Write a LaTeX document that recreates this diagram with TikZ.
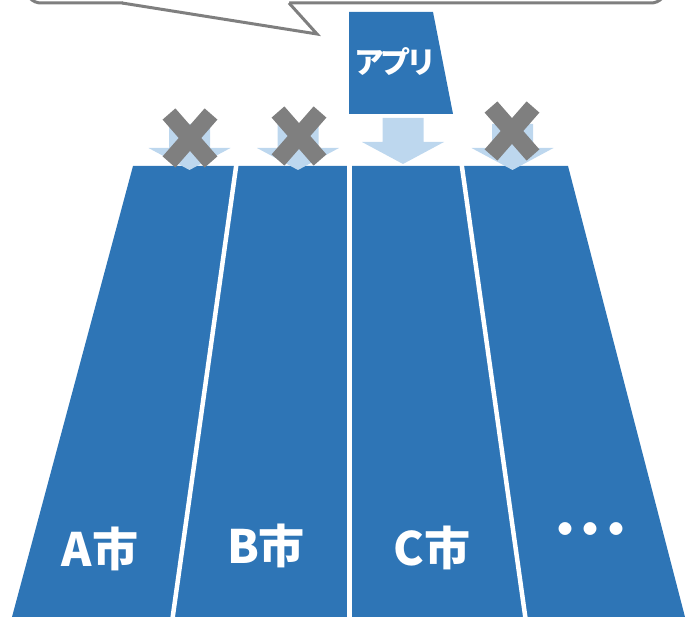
\documentclass[tikz,border=0pt]{standalone}
\usepackage{fontspec}
\newfontfamily\jp{Noto Sans CJK JP}
\definecolor{stripblue}{HTML}{2E75B6}
\definecolor{lightarrow}{HTML}{BDD7EE}
\definecolor{xgray}{HTML}{7F7F7F}
\tikzset{
  bubbleline/.style={draw=xgray, line width=3pt, line join=miter},
  divider/.style={white, line width=4.5pt},
  downarrow/.style={fill=lightarrow},
  crossmark/.style={xgray, line width=17pt, line cap=butt},
  citylabel/.style={text=white, font=\jp\bfseries\fontsize{46}{50}\selectfont, inner sep=0pt},
  applabel/.style={text=white, font=\jp\bfseries\fontsize{30}{34}\selectfont, inner sep=0pt}
}
\newcommand{\xarrow}[2]{% center x, shift y
  \fill[downarrow] (#1-20.5,#2+118) -- (#1+20.5,#2+118) -- (#1+20.5,#2+142) -- (#1+41,#2+142) -- (#1,#2+164) -- (#1-41,#2+142) -- (#1-20.5,#2+142) -- cycle;}
\newcommand{\xcross}[2]{%
  \draw[crossmark] (#1-21,#2-24) -- (#1+21,#2+24);
  \draw[crossmark] (#1+21,#2-24) -- (#1-21,#2+24);}
\begin{document}
\begin{tikzpicture}[x=1pt,y=-1pt]
\useasboundingbox (0,0) rectangle (685,617);
\clip (0,0) rectangle (685,617);
% speech bubble
\draw[bubbleline, fill=white, rounded corners=15pt] (26,-80) rectangle (666,3);
\fill[white] (123,-6) -- (123,3) -- (317,34) -- (289,3) -- (289,-6) -- cycle;
\draw[bubbleline] (122,3) -- (317,34) -- (289,3);
% app box
\fill[stripblue] (349,12) -- (433,12) -- (453,114) -- (349,114) -- cycle;
\node[applabel] (app) at (395,62) {\makebox[26pt]{ア}\makebox[26pt]{プ}\makebox[25pt]{リ}};
% strips
\fill[stripblue] (133,166) -- (568,166) -- (685,617) -- (12,617) -- cycle;
\draw[divider] (237,160) -- (172,622);
\draw[divider] (349.5,160) -- (349.5,622);
\draw[divider] (461,160) -- (526,622);
% arrows
\xarrow{403}{0}
\xarrow{189.5}{6}
\xarrow{298}{6}
\xarrow{512.5}{6}
% crosses
\xcross{190}{138}
\xcross{299}{136}
\xcross{512}{131}
% labels
\node[citylabel] (a) at (100,549) {A市};
\node[citylabel] (b) at (266,546) {B市};
\node[citylabel] (c) at (432,548) {C市};
\node[citylabel] (etc) at (590.5,535) {\makebox[25.5pt]{・}\makebox[25.5pt]{・}\makebox[25.5pt]{・}};
\end{tikzpicture}
\end{document}
